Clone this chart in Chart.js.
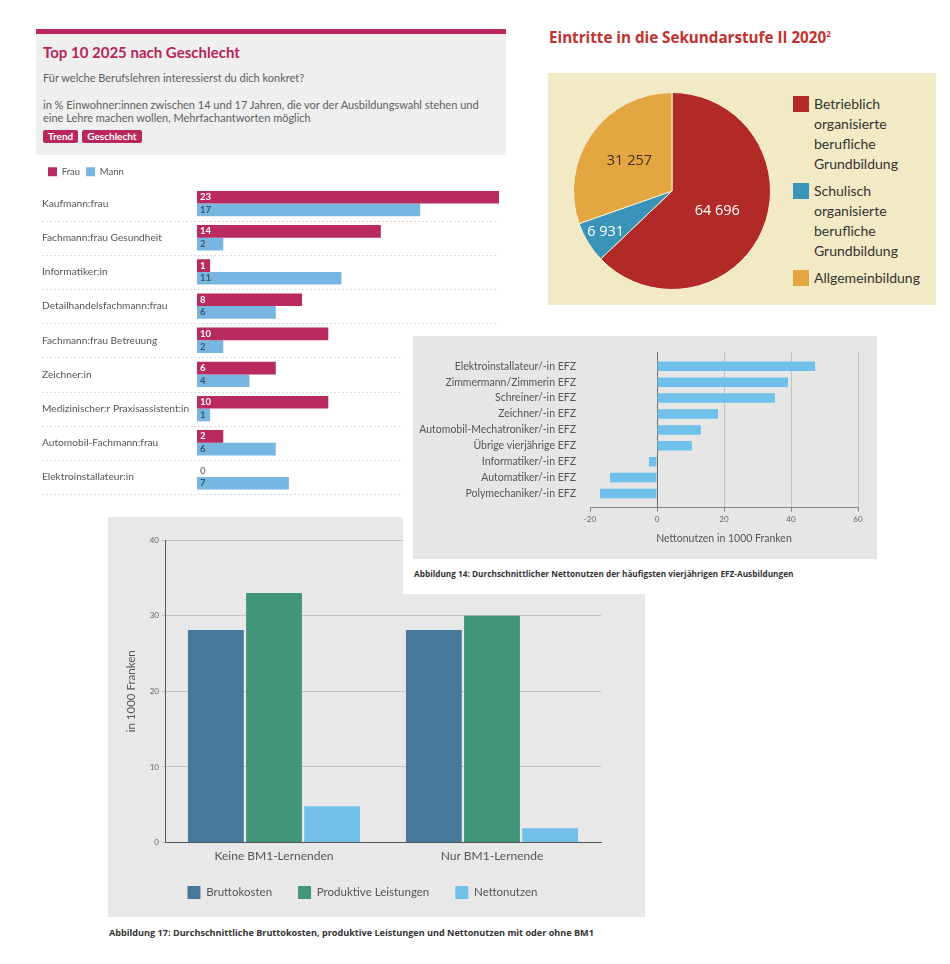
<!DOCTYPE html>
<html>
<head>
<meta charset="utf-8">
<script src="https://cdn.jsdelivr.net/npm/chart.js@4.4.1/dist/chart.umd.min.js"></script>
<style>
  body { margin: 0; background: #fff; font-family: Lato, sans-serif; }
  #page { position: relative; width: 950px; height: 964px; overflow: hidden; }
  .abs { position: absolute; }
  #topA { left: 36px; top: 29px; width: 470px; z-index: 1; }
  #topA .bar { height: 5px; background: #bd2560; }
  #topA .head { background: #efefef; padding: 8px 7px 8px 7px; height: 105px; }
  #topA h2 { margin: 0; font-size: 15px; font-weight: 700; color: #b8245c; line-height: 20px; }
  #topA p { margin: 0; font-size: 11px; color: #5e5e5e; line-height: 13px; }
  .btn { display: inline-block; background: #b8285e; color: #fff; font-size: 10px; font-weight: 700;
         padding: 0 5px; line-height: 13px; border-radius: 2px; margin-right: 4px; }
  #boxA { left: 36px; top: 161px; width: 470px; height: 340px; z-index: 1; }
  #pieTitle { left: 549px; top: 27px; font-size: 15.2px; font-weight: 700; color: #c4302e; z-index: 1; font-family: "Open Sans", sans-serif; }
  #pieTitle sup { font-size: 8px; }
  #pieBox { left: 548px; top: 73px; width: 388px; height: 232px; background: #f2eac5; z-index: 1; }
  #pieCanvasWrap { position: absolute; left: 0; top: 0; width: 240px; height: 232px; }
  #pieLegend { position: absolute; left: 245px; top: 21px; width: 140px; }
  #pieLegend .item { display: flex; margin-bottom: 7px; }
  #pieLegend .sw { width: 16px; height: 16px; flex: none; margin-top: 2px; margin-right: 5px; }
  #pieLegend .tx { width: 115px; font-size: 14px; line-height: 20px; color: #333; }
  #panelC { left: 403px; top: 326px; width: 487px; height: 268px; background: #fff; z-index: 3; }
  #grayC { position: absolute; left: 10px; top: 10px; width: 464px; height: 223px; background: #e6e6e6; }
  #capC { position: absolute; left: 11px; top: 242px; font-size: 8.25px; font-weight: 700; color: #333; font-family: "Open Sans", sans-serif; }
  #panelD { left: 108px; top: 517px; width: 537px; height: 400px; background: #e8e8e8; z-index: 1; }
  #capD { left: 109px; top: 926px; font-size: 9.1px; font-weight: 700; color: #333; font-family: "Open Sans", sans-serif; z-index: 1; }
</style>
</head>
<body>
<div id="page">
  <div id="topA" class="abs">
    <div class="bar"></div>
    <div class="head">
      <h2>Top 10 2025 nach Geschlecht</h2>
      <p style="margin-top:9px">Für welche Berufslehren interessierst du dich konkret?</p>
      <p style="margin-top:14px">in % Einwohner:innen zwischen 14 und 17 Jahren, die vor der Ausbildungswahl stehen und eine Lehre machen wollen, Mehrfachantworten möglich</p>
      <div style="margin-top:0"><span class="btn">Trend</span><span class="btn">Geschlecht</span></div>
    </div>
  </div>
  <div id="boxA" class="abs"><canvas id="chartA"></canvas></div>

  <div id="pieTitle" class="abs">Eintritte in die Sekundarstufe II 2020<sup>2</sup></div>
  <div id="pieBox" class="abs">
    <div id="pieCanvasWrap"><canvas id="chartB"></canvas></div>
    <div id="pieLegend"></div>
  </div>

  <div id="panelC" class="abs">
    <div id="grayC"><canvas id="chartC"></canvas></div>
    <div id="capC">Abbildung 14: Durchschnittlicher Nettonutzen der häufigsten vierjährigen EFZ-Ausbildungen</div>
  </div>

  <div id="panelD" class="abs"><canvas id="chartD"></canvas></div>
  <div id="capD" class="abs">Abbildung 17: Durchschnittliche Bruttokosten, produktive Leistungen und Nettonutzen mit oder ohne BM1</div>
</div>

<script>
// --- Top 10 nach Geschlecht
const berufe = ['Kaufmann:frau', 'Fachmann:frau Gesundheit', 'Informatiker:in', 'Detailhandelsfachmann:frau',
    'Fachmann:frau Betreuung', 'Zeichner:in', 'Medizinischer:r Praxisassistent:in', 'Automobil-Fachmann:frau',
    'Elektroinstallateur:in'];
const frau = [23, 14, 1, 8, 10, 6, 10, 2, 0];
const mann = [17, 2, 11, 6, 2, 4, 1, 6, 7];

// --- Eintritte Sekundarstufe II
const pieLabels = ['Betrieblich organisierte berufliche Grundbildung', 'Schulisch organisierte berufliche Grundbildung', 'Allgemeinbildung'];
const pieValues = [64696, 6931, 31257];
const pieColors = ['#b22a28', '#3a93b8', '#e4a641'];

// --- Nettonutzen EFZ
const efz = ['Elektroinstallateur/-in EFZ', 'Zimmermann/Zimmerin EFZ', 'Schreiner/-in EFZ', 'Zeichner/-in EFZ',
    'Automobil-Mechatroniker/-in EFZ', 'Übrige vierjährige EFZ', 'Informatiker/-in EFZ', 'Automatiker/-in EFZ',
    'Polymechaniker/-in EFZ'];
const nettoEfz = [47.2, 39.1, 35.2, 18.2, 13.1, 10.4, -2.4, -14, -17];

// --- BM1
const gruppen = ['Keine BM1-Lernenden', 'Nur BM1-Lernende'];
const brutto = [28.1, 28.1];
const produktiv = [33, 30];
const netto = [4.8, 1.9];

const thousands = v => String(v).replace(/\B(?=(\d{3})+(?!\d))/g, ' ');

// row separators + value labels for chart A
const rowLines = {
    id: 'rowLines',
    beforeDatasetsDraw(chart) {
        const ctx = chart.ctx, y = chart.scales.y;
        const step = y.getPixelForValue(1) - y.getPixelForValue(0);
        ctx.save();
        ctx.strokeStyle = '#dcdcdc';
        ctx.setLineDash([2, 2]);
        ctx.lineWidth = 1;
        for (let i = 0; i < berufe.length; i++) {
            const py = Math.round(y.getPixelForValue(i) + step / 2) + 0.5;
            ctx.beginPath();
            ctx.moveTo(6, py);
            ctx.lineTo(chart.chartArea.right, py);
            ctx.stroke();
        }
        ctx.restore();
    }
};
const barLabels = {
    id: 'barLabels',
    afterDatasetsDraw(chart) {
        const ctx = chart.ctx;
        const colors = ['#fff', '#3b566c'];
        ctx.save();
        ctx.font = '700 9.5px Lato';
        ctx.textBaseline = 'middle';
        chart.data.datasets.forEach((ds, i) => {
            chart.getDatasetMeta(i).data.forEach((bar, j) => {
                const v = ds.data[j];
                ctx.fillStyle = v === 0 ? '#777' : colors[i];
                ctx.fillText(v, bar.base + 3, bar.y);
            });
        });
        ctx.restore();
    }
};

new Chart(document.getElementById('chartA'), {
    type: 'bar',
    data: {
        labels: berufe,
        datasets: [
            { label: 'Frau', data: frau, backgroundColor: '#b82a60' },
            { label: 'Mann', data: mann, backgroundColor: '#76b6e0' }
        ]
    },
    options: {
        indexAxis: 'y',
        responsive: true,
        maintainAspectRatio: false,
        animation: false,
        categoryPercentage: 0.74,
        barPercentage: 1,
        layout: { padding: { left: 6, right: 7, top: 0, bottom: 7 } },
        plugins: {
            legend: {
                align: 'start',
                labels: { boxWidth: 9, boxHeight: 9, padding: 6, color: '#555', font: { family: 'Lato', size: 9.5 } }
            },
            tooltip: { enabled: false }
        },
        scales: {
            x: { display: false, min: 0, max: 23 },
            y: {
                grid: { display: false },
                border: { display: false },
                afterFit(s) { s.width = 155; },
                ticks: { crossAlign: 'far', color: '#555', padding: 0, font: { family: 'Lato', size: 10.2 } }
            }
        }
    },
    plugins: [rowLines, barLabels]
});

// pie
const pieNumbers = {
    id: 'pieNumbers',
    afterDatasetsDraw(chart) {
        const ctx = chart.ctx;
        const dist = [0.5, 0.79, 0.53];
        const colors = ['#fff', '#fff', '#3a3020'];
        ctx.save();
        ctx.font = '14.5px "Open Sans"';
        ctx.textAlign = 'center';
        ctx.textBaseline = 'middle';
        chart.getDatasetMeta(0).data.forEach((arc, i) => {
            const mid = (arc.startAngle + arc.endAngle) / 2;
            const r = arc.outerRadius * dist[i];
            ctx.fillStyle = colors[i];
            ctx.fillText(thousands(pieValues[i]), arc.x + Math.cos(mid) * r, arc.y + Math.sin(mid) * r);
        });
        ctx.restore();
    }
};

new Chart(document.getElementById('chartB'), {
    type: 'pie',
    data: {
        labels: pieLabels,
        datasets: [{ data: pieValues, backgroundColor: pieColors, borderColor: '#f4eed2', borderWidth: 1 }]
    },
    options: {
        responsive: true,
        maintainAspectRatio: false,
        animation: false,
        layout: { padding: { left: 25, right: 17, top: 19, bottom: 15 } },
        plugins: { legend: { display: false }, tooltip: { enabled: false } }
    },
    plugins: [pieNumbers]
});

const legendBox = document.getElementById('pieLegend');
pieLabels.forEach((lab, i) => {
    const item = document.createElement('div');
    item.className = 'item';
    item.innerHTML = '<div class="sw" style="background:' + pieColors[i] + '"></div><div class="tx">' + lab + '</div>';
    legendBox.appendChild(item);
});

// Nettonutzen
new Chart(document.getElementById('chartC'), {
    type: 'bar',
    data: {
        labels: efz,
        datasets: [{ data: nettoEfz, backgroundColor: '#6fc0ea' }]
    },
    options: {
        indexAxis: 'y',
        responsive: true,
        maintainAspectRatio: false,
        animation: false,
        categoryPercentage: 0.6,
        barPercentage: 1,
        layout: { padding: { left: 0, right: 19, top: 16, bottom: 10 } },
        plugins: { legend: { display: false }, tooltip: { enabled: false } },
        scales: {
            x: {
                min: -20,
                max: 60,
                ticks: { stepSize: 20, color: '#666', padding: 3, font: { family: 'Lato', size: 8 } },
                grid: {
                    color: ctx => ctx.tick.value === 0 ? '#6e6e6e' : (ctx.tick.value === -20 ? 'rgba(0,0,0,0)' : '#c2c2c2'),
                    tickLength: 4,
                    tickColor: '#888'
                },
                border: { color: '#888' },
                title: { display: true, text: 'Nettonutzen in 1000 Franken', color: '#555', padding: { top: 5 }, font: { family: 'Lato', size: 10.5 } }
            },
            y: {
                grid: { display: false },
                border: { display: false },
                afterFit(s) { s.width = 177; },
                // leave some empty room above and below the bars, like the original
                afterBuildTicks(s) { s._startValue -= 0.4; s._valueRange += 0.8; },
                ticks: { color: '#555', padding: 6, font: { family: 'Lato', size: 10.5 } }
            }
        }
    }
});

// BM1
new Chart(document.getElementById('chartD'), {
    type: 'bar',
    data: {
        labels: gruppen,
        datasets: [
            { label: 'Bruttokosten', data: brutto, backgroundColor: '#467899' },
            { label: 'Produktive Leistungen', data: produktiv, backgroundColor: '#41957a' },
            { label: 'Nettonutzen', data: netto, backgroundColor: '#72bfe8' }
        ]
    },
    options: {
        responsive: true,
        maintainAspectRatio: false,
        animation: false,
        categoryPercentage: 0.8,
        barPercentage: 0.96,
        layout: { padding: { left: 16, right: 44, top: 23, bottom: 8 } },
        plugins: {
            legend: {
                position: 'bottom',
                labels: { boxWidth: 13, boxHeight: 13, padding: 26, color: '#555', font: { family: 'Lato', size: 11.5 } }
            },
            tooltip: { enabled: false }
        },
        scales: {
            x: {
                grid: { display: false, drawTicks: false },
                border: { color: '#555' },
                afterFit(s) { s.height -= 9; },
                ticks: { color: '#555', padding: 6, font: { family: 'Lato', size: 12 } }
            },
            y: {
                min: 0,
                max: 40,
                afterFit(s) { s.width = 41; },
                ticks: { stepSize: 10, color: '#666', font: { family: 'Lato', size: 8 } },
                grid: { color: '#c2c2c2', tickLength: 3 },
                border: { color: '#555' },
                title: { display: true, text: 'in 1000 Franken', color: '#555', padding: 0, font: { family: 'Lato', size: 11.5 } }
            }
        }
    }
});
</script>
</body>
</html>
